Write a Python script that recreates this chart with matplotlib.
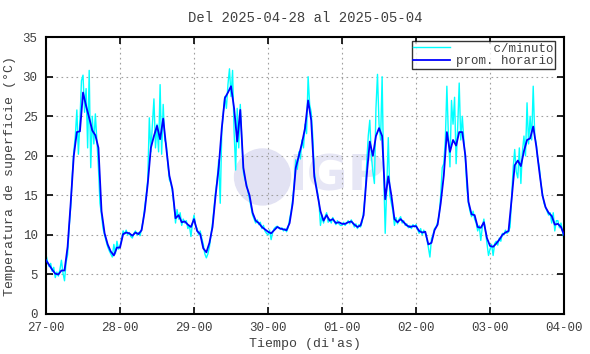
import numpy as np
import matplotlib
matplotlib.use("Agg")
import matplotlib.pyplot as plt
from matplotlib.patches import Ellipse

# hourly mean temperature (one list per day, 24 values each)
hourly_day1 = [6.8, 6.2, 5.6, 5.1, 5.0, 5.5, 5.5, 8.5, 14.0, 20.0, 23.0, 23.1,
               28.0, 26.3, 24.8, 23.2, 22.6, 21.0, 13.0, 10.2, 8.8, 7.9, 7.4, 8.4]
hourly_day2 = [8.4, 10.1, 10.3, 10.2, 9.9, 10.3, 10.1, 10.6, 13.0, 16.5, 21.0, 22.5,
               23.8, 22.1, 24.7, 21.0, 17.5, 15.8, 12.1, 12.5, 11.6, 11.7, 11.3, 11.0]
hourly_day3 = [12.0, 10.5, 10.1, 8.3, 7.8, 9.0, 11.0, 15.0, 18.5, 23.5, 27.3, 28.0,
               28.8, 26.0, 21.8, 25.8, 18.5, 16.2, 15.0, 12.8, 11.8, 11.5, 11.0, 10.7]
hourly_day4 = [10.4, 10.2, 10.6, 11.0, 10.8, 10.7, 10.6, 11.5, 14.0, 18.5, 20.0, 21.6,
               23.5, 27.0, 24.5, 17.4, 15.2, 13.0, 11.8, 12.5, 11.8, 12.0, 11.5, 11.6]
hourly_day5 = [11.4, 11.4, 11.6, 11.7, 11.3, 11.0, 11.2, 12.5, 17.5, 21.8, 20.0, 22.5,
               23.5, 22.5, 14.5, 17.4, 15.0, 12.0, 11.6, 12.0, 11.6, 11.2, 11.0, 11.1]
hourly_day6 = [11.1, 10.5, 10.3, 10.4, 8.8, 9.0, 10.6, 11.3, 14.0, 17.5, 23.0, 20.5,
               22.0, 21.3, 23.0, 23.0, 20.0, 14.2, 12.6, 12.5, 11.0, 10.9, 11.6, 9.6]
hourly_day7 = [8.6, 8.5, 8.9, 9.4, 10.0, 10.3, 10.5, 14.5, 18.8, 19.4, 18.7, 20.6,
               22.0, 22.2, 23.7, 21.2, 18.0, 15.0, 13.5, 12.8, 12.4, 11.3, 11.4, 11.0]
hourly_end = [10.0]

# minute readings, sampled every 30 min (48 values per day)
minute_day1 = [7.5, 6.6, 6.0, 6.4, 5.4, 5.9, 4.6, 5.3, 4.8, 5.6, 6.8, 5.2,
               4.2, 6.5, 7.5, 11.0, 13.5, 17.5, 20.5, 22.5, 25.8, 20.2, 24.5, 29.5,
               30.2, 25.5, 28.5, 21.0, 30.8, 18.5, 25.0, 21.5, 25.3, 22.0, 18.5, 14.0,
               12.5, 10.8, 10.0, 9.2, 8.5, 8.0, 7.6, 7.2, 8.8, 7.6, 9.2, 8.2]
minute_day2 = [8.6, 9.4, 10.5, 10.1, 10.6, 10.0, 10.3, 9.8, 9.6, 10.2, 10.5, 10.0,
               10.3, 9.9, 10.8, 11.8, 13.5, 15.0, 17.0, 24.8, 20.5, 24.0, 27.2, 21.0,
               24.0, 20.5, 29.0, 20.2, 26.5, 22.0, 21.5, 19.0, 17.0, 16.5, 15.5, 13.8,
               11.5, 13.2, 12.0, 12.8, 11.2, 12.0, 11.5, 11.8, 10.8, 11.2, 9.8, 11.5]
minute_day3 = [12.5, 11.2, 10.8, 10.0, 10.5, 9.6, 8.8, 7.6, 7.1, 7.6, 8.5, 10.0,
               11.5, 13.5, 15.5, 17.0, 19.5, 14.0, 23.0, 25.5, 27.5, 26.0, 29.0, 31.0,
               27.5, 30.8, 23.0, 18.2, 26.0, 21.0, 26.5, 22.0, 18.0, 17.0, 16.5, 15.5,
               14.5, 13.5, 12.5, 12.0, 11.5, 11.9, 11.3, 11.6, 10.8, 11.2, 10.5, 10.2]
minute_day4 = [10.0, 10.6, 9.4, 10.3, 10.8, 11.0, 11.1, 10.9, 10.7, 10.9, 10.5, 10.8,
               10.4, 10.9, 12.0, 13.0, 14.5, 16.5, 19.5, 18.3, 20.5, 19.6, 22.0, 21.0,
               24.0, 22.8, 30.0, 26.5, 25.5, 22.5, 18.0, 16.5, 15.5, 14.2, 11.2, 12.5,
               11.5, 12.3, 12.8, 11.6, 12.0, 11.5, 12.2, 11.7, 11.3, 11.8, 11.4, 11.2]
minute_day5 = [11.2, 11.6, 11.2, 11.5, 11.8, 11.4, 11.9, 11.5, 11.0, 11.4, 10.8, 11.3,
               11.0, 11.6, 13.0, 15.0, 19.0, 22.5, 24.5, 20.0, 18.0, 16.5, 26.0, 30.3,
               24.0, 22.0, 30.0, 18.0, 10.2, 16.0, 22.3, 15.0, 14.0, 13.0, 11.2, 12.2,
               11.4, 12.0, 12.3, 11.5, 11.8, 11.2, 11.4, 10.9, 11.2, 10.8, 11.3, 11.0]
minute_day6 = [11.3, 10.7, 10.2, 10.8, 10.0, 10.6, 10.2, 9.5, 8.4, 7.2, 9.5, 10.0,
               10.8, 11.0, 11.6, 12.5, 15.0, 18.5, 19.0, 22.0, 28.8, 22.5, 18.6, 27.0,
               24.0, 27.4, 19.0, 23.5, 29.2, 22.0, 25.0, 22.0, 19.5, 16.0, 14.0, 13.0,
               12.3, 13.0, 12.0, 11.5, 10.5, 11.2, 9.3, 11.0, 12.0, 10.5, 9.0, 7.4]
minute_day7 = [8.2, 8.8, 7.4, 8.9, 9.2, 8.7, 9.6, 9.2, 10.2, 10.0, 10.6, 10.2,
               10.4, 11.0, 14.8, 18.5, 20.8, 18.0, 17.2, 21.0, 16.5, 20.5, 22.5, 20.0,
               26.7, 21.5, 25.0, 22.0, 28.8, 22.5, 21.5, 19.5, 18.5, 16.5, 15.2, 14.0,
               13.5, 13.0, 12.5, 12.8, 11.5, 12.8, 10.5, 11.8, 11.8, 10.9, 11.5, 10.5]
minute_end = [9.3]

day_labels = ["27-00", "28-00", "29-00", "30-00", "01-00", "02-00", "03-00", "04-00"]

hourly = np.array(hourly_day1 + hourly_day2 + hourly_day3 + hourly_day4
                  + hourly_day5 + hourly_day6 + hourly_day7 + hourly_end)
minute = np.array(minute_day1 + minute_day2 + minute_day3 + minute_day4
                  + minute_day5 + minute_day6 + minute_day7 + minute_end)
t_hourly = np.arange(len(hourly)) / 24.0
t_minute = np.arange(len(minute)) / 48.0

plt.rcParams["font.family"] = ["Liberation Mono", "DejaVu Sans Mono"]
txt = "#404040"

fig = plt.figure(figsize=(5.9, 3.54), dpi=100)
ax = fig.add_axes([0.078, 0.113, 0.878, 0.782])

# faint IGP watermark (axes fractions; axes is 518 x 277 px)
ax.add_patch(Ellipse((0.418, 0.495), 56 / 518, 56 / 277, transform=ax.transAxes,
                     color="#e2e2f3", zorder=0))
ax.text(0.468, 0.495, "IGP", transform=ax.transAxes, fontsize=36, fontweight="bold",
        color="#e6e6f5", family="DejaVu Sans", va="center", ha="left", zorder=0)

ax.plot(t_minute, minute, color="#00ffff", lw=1.0, label="     c/minuto", zorder=2)
ax.plot(t_hourly, hourly, color="#0000ff", lw=1.3, label="prom. horario", zorder=3)

ax.set_xlim(0, 7)
ax.set_ylim(0, 35)
ax.set_xticks(np.arange(len(day_labels)))
ax.set_xticklabels(day_labels)
ax.set_yticks(np.arange(0, 36, 5))
ax.grid(True, color="#a0a0a0", linestyle=(0, (1.5, 3)), linewidth=0.8)
ax.tick_params(direction="in", length=5, width=1.2, top=True, right=True,
               labelsize=9, labelcolor=txt, pad=6)
for s in ax.spines.values():
    s.set_linewidth(1.5)

ax.set_title("Del 2025-04-28 al 2025-05-04", fontsize=10, color=txt, pad=11)
ax.set_xlabel("Tiempo (di'as)", fontsize=9.5, color=txt, labelpad=3)
ax.set_ylabel("Temperatura de superficie (°C)", fontsize=9.5, color=txt, labelpad=5)

leg = ax.legend(loc="upper right", bbox_to_anchor=(1 - 5 / 518, 1), fontsize=9,
                frameon=True, fancybox=False, edgecolor="black", borderpad=0.15,
                handlelength=2.9, handletextpad=0.5, labelspacing=0.05,
                borderaxespad=0.3)
leg.get_frame().set_linewidth(1.0)
for t in leg.get_texts():
    t.set_color(txt)

fig.savefig("out.png", dpi=100)
